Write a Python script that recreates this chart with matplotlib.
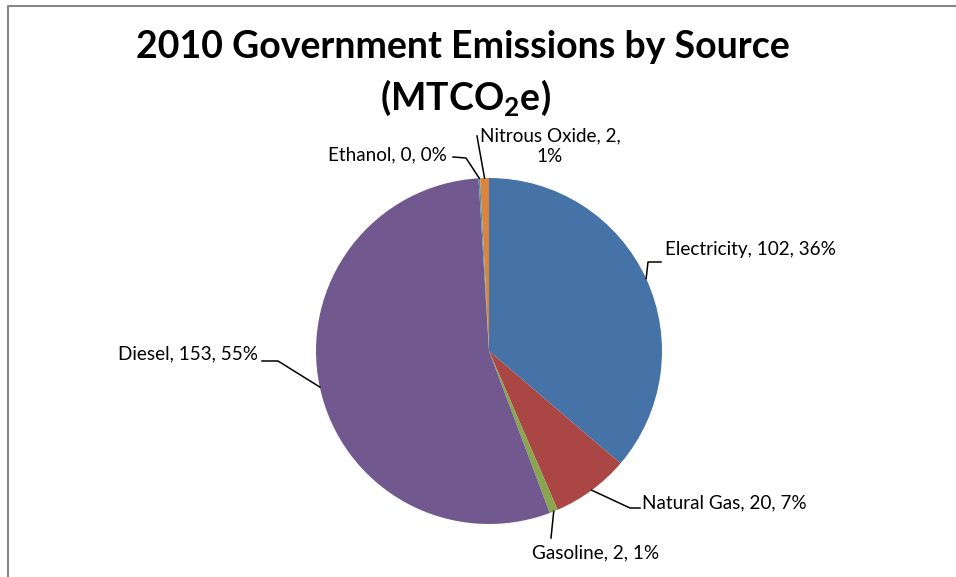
import matplotlib.pyplot as plt
import numpy as np

# Emissions by source (MTCO2e), clockwise from 12 o'clock
sources = ['Electricity', 'Natural Gas', 'Gasoline', 'Diesel', 'Ethanol', 'Nitrous Oxide']
emissions = [101.6, 20.3, 2.2, 153.4, 0.4, 2.3]
colors = ['#4572A7', '#AA4643', '#89A54E', '#71588F', '#4198AF', '#DB843D']

# label layout (pixel coords, y measured from top): elbow point, line end, text anchor
label_elbow = [(648, 262), (630, 508), (551, 538), (278, 361), (466, 158), (477, 136)]
label_end = [(661, 262), (640, 508), (551, 538), (262, 361), (453, 157), (477, 136)]
label_text = [(665, 249, 'left'), (642, 503, 'left'), (596, 553, 'center'),
              (258, 354, 'right'), (447, 155, 'right'), (550, 146, 'center')]

W, H = 956, 577
plt.rcParams['font.family'] = ['Lato', 'DejaVu Sans']

fig = plt.figure(figsize=(W / 100, H / 100), dpi=100)
ax = fig.add_axes([0, 0, 1, 1])

cx, cy, r = 489, H - 351, 173
wedges, _ = ax.pie(emissions, colors=colors, startangle=90, counterclock=False,
                   center=(cx, cy), radius=r, frame=True,
                   wedgeprops=dict(linewidth=0))
ax.set_xlim(0, W)
ax.set_ylim(0, H)
ax.set_aspect('equal')
ax.axis('off')

total = sum(emissions)
for i, w in enumerate(wedges):
    mid = np.deg2rad((w.theta1 + w.theta2) / 2)
    ex = cx + r * np.cos(mid)
    ey = cy + r * np.sin(mid)
    xs = [ex, label_elbow[i][0], label_end[i][0]]
    ys = [ey, H - label_elbow[i][1], H - label_end[i][1]]
    ax.plot(xs, ys, color='black', lw=1.1)
    pct = emissions[i] / total * 100
    if sources[i] == 'Nitrous Oxide':
        txt = f'{sources[i]}, {emissions[i]:.0f},\n{pct:.0f}%'
    else:
        txt = f'{sources[i]}, {emissions[i]:.0f}, {pct:.0f}%'
    tx, ty, ha = label_text[i]
    ax.text(tx, H - ty, txt, ha=ha, va='center', fontsize=13.6, color='black',
            linespacing=1.25)

ax.text(463, H - 47, '2010 Government Emissions by Source', ha='center', va='center',
        fontsize=27, fontweight='bold')
ax.text(465, H - 98, '(MTCO$_\\mathregular{2}$e)', ha='center', va='center',
        fontsize=27, fontweight='bold')

# chart area frame (left and top edges visible)
ax.plot([8.5, 8.5, W], [0, H - 5.5, H - 5.5], color='#868686', lw=1.5, clip_on=False)

fig.savefig('out.png', dpi=100)
